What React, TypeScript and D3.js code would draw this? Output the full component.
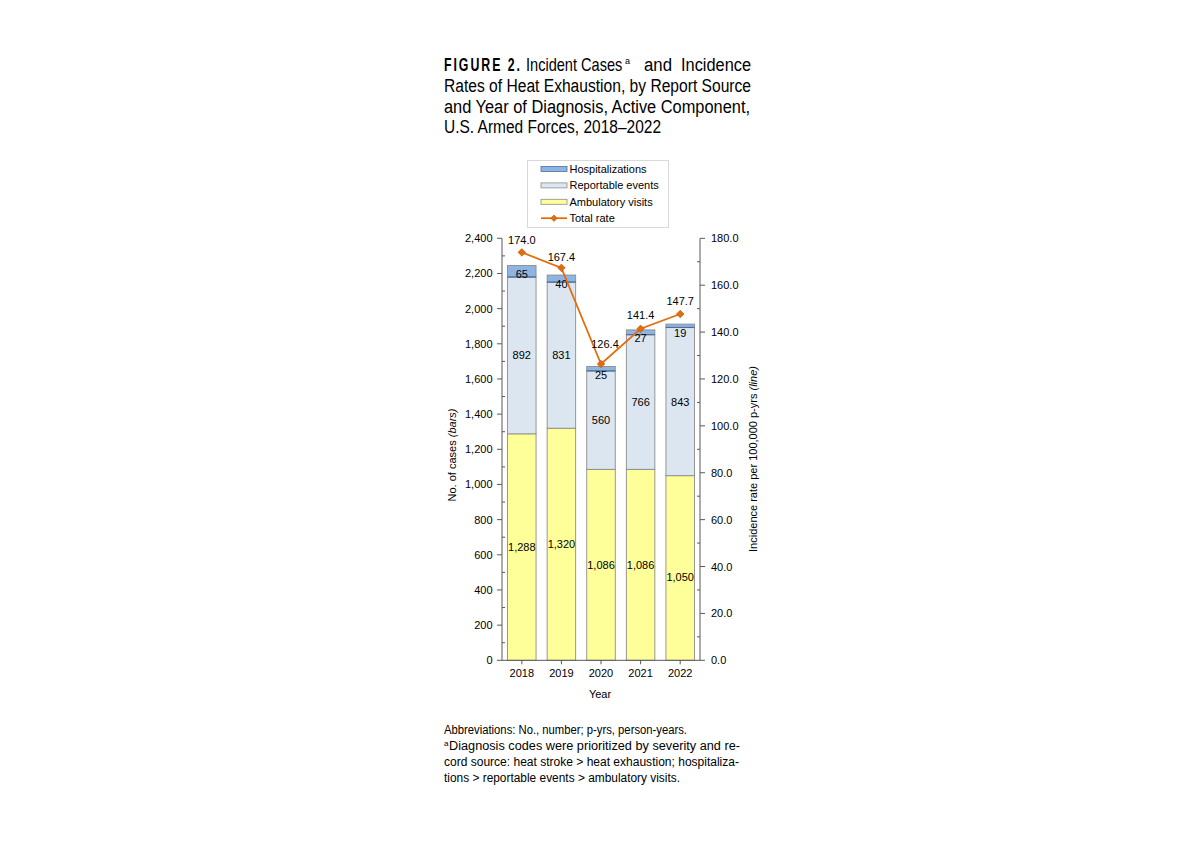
import React from "react";
import * as d3 from "d3";

const years = ["2018", "2019", "2020", "2021", "2022"];
const ambulatory = [1288, 1320, 1086, 1086, 1050];
const reportable = [892, 831, 560, 766, 843];
const hospitalizations = [65, 40, 25, 27, 19];
const totalRate = [174.0, 167.4, 126.4, 141.4, 147.7];
const leftTickValues = [0, 200, 400, 600, 800, 1000, 1200, 1400, 1600, 1800, 2000, 2200, 2400];
const rightTickValues = [0, 20, 40, 60, 80, 100, 120, 140, 160, 180];
const legendItems = ["Hospitalizations", "Reportable events", "Ambulatory visits", "Total rate"];

// style / layout
const FONT = "'Liberation Sans', Arial, sans-serif";
const NARROW = "'Liberation Sans Narrow', 'Arial Narrow', 'Liberation Sans', Arial, sans-serif";
const X0 = 502, X1 = 700, Y0 = 660.3, Y1 = 238.3;
const COLORS = { amb: "#FFFF99", rep: "#DCE6F1", hosp: "#8DB4E2", line: "#E46C0A" };
const rateLabelDy = [-12, -11, -20, -14, -13];
const rateLabelDx = [0, 0, 4, 0, 0];
const ambLabelDy = [0, 0, 0, 0, 9];

export default function App() {
  const x = d3.scaleBand<string>().domain(years).range([X0, X1]).paddingInner(0.28).paddingOuter(0.14);
  const yL = d3.scaleLinear().domain([0, 2400]).range([Y0, Y1]);
  const yR = d3.scaleLinear().domain([0, 180]).range([Y0, Y1]);
  const rows = years.map((yr, i) => ({ year: yr, amb: ambulatory[i], rep: reportable[i], hosp: hospitalizations[i] }));
  const stack = d3.stack<any>().keys(["amb", "rep", "hosp"])(rows);
  const fmtL = d3.format(",");
  const fmtR = d3.format(".1f");
  const line = d3.line<number>().x((_, i) => x(years[i])! + x.bandwidth() / 2).y((d) => yR(d));
  const minorL = d3.range(100, 2400, 200);
  const minorR = d3.range(10, 180, 20);
  const diamond = (cx: number, cy: number, r: number) =>
    `M${cx},${cy - r}L${cx + r},${cy}L${cx},${cy + r}L${cx - r},${cy}Z`;
  const bw = x.bandwidth();
  const axisColor = "#595959";

  return (
    <svg width={1200} height={844} style={{ position: "absolute", left: 0, top: 0 }} fontFamily={FONT}>
      <rect width={1200} height={844} fill="#fff" />
      {/* Title */}
      <g fontFamily={NARROW} fontSize={18} fill="#000">
        <text transform="translate(444,71) scale(0.65,1)" fontFamily={FONT} fontSize={19} fontWeight={700} letterSpacing={3}>FIGURE 2.</text>
        <text transform="translate(526,71) scale(0.81,1)">Incident Cases</text>
        <text x={625} y={64} fontSize={9}>a</text>
        <text x={644} y={71} textLength={28} lengthAdjust="spacingAndGlyphs">and</text>
        <text x={681} y={71} textLength={70} lengthAdjust="spacingAndGlyphs">Incidence</text>
        <text x={444} y={92} textLength={307} lengthAdjust="spacingAndGlyphs">Rates of Heat Exhaustion, by Report Source</text>
        <text x={444} y={113} textLength={306} lengthAdjust="spacingAndGlyphs">and Year of Diagnosis, Active Component,</text>
        <text x={444} y={133} textLength={217} lengthAdjust="spacingAndGlyphs">U.S. Armed Forces, 2018–2022</text>
      </g>

      {/* Legend */}
      <g fontSize={11}>
        <rect x={527.5} y={160.5} width={141} height={67} fill="#fff" stroke="#d9d9d9" />
        {legendItems.map((name, i) => {
          const cy = 169 + i * 16.4;
          const fill = i === 0 ? COLORS.hosp : i === 1 ? COLORS.rep : COLORS.amb;
          return (
            <g key={name}>
              {i < 3 ? (
                <rect x={541} y={cy - 2.5} width={26} height={5} fill={fill} stroke={i === 0 ? "#4f6f9a" : "#8c8c8c"} strokeWidth={0.8} />
              ) : (
                <g>
                  <line x1={541} x2={567} y1={cy} y2={cy} stroke={COLORS.line} strokeWidth={1.75} />
                  <path d={diamond(554, cy, 3.2)} fill={COLORS.line} stroke="#b55a10" strokeWidth={0.6} />
                </g>
              )}
              <text x={569.5} y={cy + 4}>{name}</text>
            </g>
          );
        })}
      </g>

      {/* Bars */}
      {stack.map((layer) =>
        layer.map((d, i) => {
          const key = layer.key as "amb" | "rep" | "hosp";
          const yTop = yL(d[1]);
          const yBot = yL(d[0]);
          return (
            <rect key={key + i} x={x(years[i])} y={yTop} width={bw} height={yBot - yTop}
              fill={COLORS[key]} stroke="#8c8c8c" strokeWidth={0.9} />
          );
        })
      )}
      {stack[2].map((d, i) => (
        <line key={"hl" + i} x1={x(years[i])!} x2={x(years[i])! + bw} y1={yL(d[0])} y2={yL(d[0])} stroke="#4f6f9a" strokeWidth={1.2} />
      ))}
      {/* Segment labels */}
      <g fontSize={11} textAnchor="middle">
        {stack.map((layer, li) =>
          layer.map((d, i) => {
            const top = yL(d[1]);
            const mid = (yL(d[0]) + top) / 2;
            const cy = Math.max(mid, top + 8.5) + (li === 0 ? ambLabelDy[i] : 0);
            return (
              <text key={layer.key + "t" + i} x={x(years[i])! + bw / 2} y={cy + 4}>
                {fmtL(d[1] - d[0])}
              </text>
            );
          })
        )}
      </g>

      {/* Axes */}
      <g stroke={axisColor} strokeWidth={1}>
        <line x1={X0} x2={X0} y1={Y1} y2={Y0} />
        {leftTickValues.map((v) => (
          <line key={"lt" + v} x1={X0 - 5} x2={X0} y1={yL(v)} y2={yL(v)} />
        ))}
        {minorL.map((v) => (
          <line key={"lm" + v} x1={X0} x2={X0 + 3} y1={yL(v)} y2={yL(v)} />
        ))}
        <line x1={X1} x2={X1} y1={Y1} y2={Y0} />
        {rightTickValues.map((v) => (
          <line key={"rt" + v} x1={X1} x2={X1 + 5} y1={yR(v)} y2={yR(v)} />
        ))}
        {minorR.map((v) => (
          <line key={"rm" + v} x1={X1 - 3} x2={X1} y1={yR(v)} y2={yR(v)} />
        ))}
        <line x1={X0} x2={X1} y1={Y0} y2={Y0} />
        {years.map((yr) => (
          <line key={"xt" + yr} x1={x(yr)! + bw / 2} x2={x(yr)! + bw / 2} y1={Y0} y2={Y0 + 4} />
        ))}
      </g>
      <g fontSize={11}>
        {leftTickValues.map((v) => (
          <text key={"ll" + v} x={492.5} y={yL(v) + 4} textAnchor="end">{fmtL(v)}</text>
        ))}
        {rightTickValues.map((v) => (
          <text key={"rl" + v} x={711} y={yR(v) + 4}>{fmtR(v)}</text>
        ))}
        {years.map((yr) => (
          <text key={"xl" + yr} x={x(yr)! + bw / 2} y={677} textAnchor="middle">{yr}</text>
        ))}
        <text x={600} y={698} textAnchor="middle">Year</text>
        <text transform={`translate(456,${455}) rotate(-90)`} textAnchor="middle">
          No. of cases <tspan fontStyle="italic">(bars)</tspan>
        </text>
        <text transform={`translate(757,${459}) rotate(-90)`} textAnchor="middle">
          Incidence rate per 100,000 p-yrs <tspan fontStyle="italic">(line)</tspan>
        </text>
      </g>

      {/* Rate line */}
      <path d={line(totalRate) || ""} fill="none" stroke={COLORS.line} strokeWidth={1.75} />
      {totalRate.map((v, i) => (
        <path key={"m" + i} d={diamond(x(years[i])! + bw / 2, yR(v), 3.8)} fill={COLORS.line} stroke="#b55a10" strokeWidth={0.6} />
      ))}
      <g fontSize={11} textAnchor="middle">
        {totalRate.map((v, i) => (
          <text key={"rv" + i} x={x(years[i])! + bw / 2 + rateLabelDx[i]} y={yR(v) + rateLabelDy[i] + 4}>{fmtR(v)}</text>
        ))}
      </g>

      {/* Footnote */}
      <g fontSize={12}>
        <text x={444} y={734} textLength={243} lengthAdjust="spacingAndGlyphs">Abbreviations: No., number; p-yrs, person-years.</text>
        <text x={444} y={750}>
          <tspan fontSize={8} dy={-4}>a</tspan>
          <tspan x={449} dy={4} textLength={291} lengthAdjust="spacingAndGlyphs">Diagnosis codes were prioritized by severity and re-</tspan>
        </text>
        <text x={444} y={766} textLength={295} lengthAdjust="spacingAndGlyphs">cord source: heat stroke &gt; heat exhaustion; hospitaliza-</text>
        <text x={444} y={782} textLength={236} lengthAdjust="spacingAndGlyphs">tions &gt; reportable events &gt; ambulatory visits.</text>
      </g>
    </svg>
  );
}
